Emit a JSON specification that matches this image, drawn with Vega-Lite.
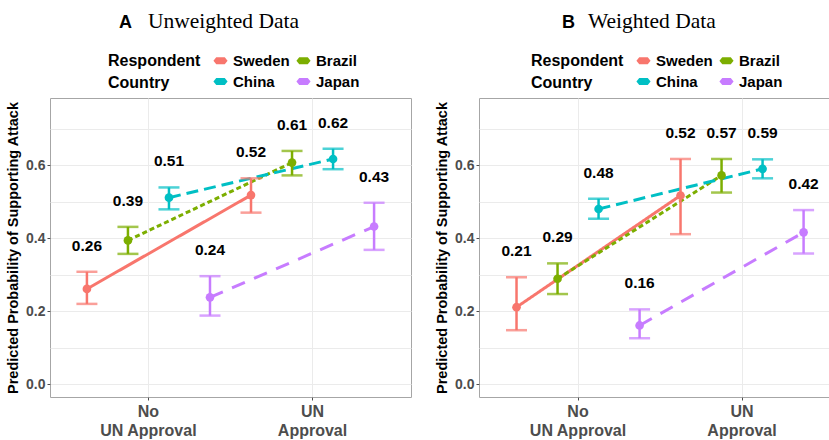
{
  "$schema": "https://vega.github.io/schema/vega-lite/v6.json",
  "background": "white",
  "padding": {"left": 5, "top": 10, "right": 0, "bottom": 0},
  "datasets": {
    "unweighted": [
      {"approval": "No UN Approval", "country": "Sweden", "p": 0.261, "lo": 0.220, "hi": 0.308},
      {"approval": "No UN Approval", "country": "Brazil", "p": 0.394, "lo": 0.357, "hi": 0.431},
      {"approval": "No UN Approval", "country": "China", "p": 0.511, "lo": 0.479, "hi": 0.539},
      {"approval": "No UN Approval", "country": "Japan", "p": 0.238, "lo": 0.188, "hi": 0.296},
      {"approval": "UN Approval", "country": "Sweden", "p": 0.518, "lo": 0.470, "hi": 0.564},
      {"approval": "UN Approval", "country": "Brazil", "p": 0.607, "lo": 0.572, "hi": 0.639},
      {"approval": "UN Approval", "country": "China", "p": 0.617, "lo": 0.589, "hi": 0.645},
      {"approval": "UN Approval", "country": "Japan", "p": 0.432, "lo": 0.368, "hi": 0.497}
    ],
    "weighted": [
      {"approval": "No UN Approval", "country": "Sweden", "p": 0.211, "lo": 0.148, "hi": 0.293},
      {"approval": "No UN Approval", "country": "Brazil", "p": 0.289, "lo": 0.247, "hi": 0.331},
      {"approval": "No UN Approval", "country": "China", "p": 0.480, "lo": 0.453, "hi": 0.508},
      {"approval": "No UN Approval", "country": "Japan", "p": 0.161, "lo": 0.126, "hi": 0.205},
      {"approval": "UN Approval", "country": "Sweden", "p": 0.517, "lo": 0.411, "hi": 0.617},
      {"approval": "UN Approval", "country": "Brazil", "p": 0.572, "lo": 0.525, "hi": 0.617},
      {"approval": "UN Approval", "country": "China", "p": 0.590, "lo": 0.564, "hi": 0.616},
      {"approval": "UN Approval", "country": "Japan", "p": 0.416, "lo": 0.358, "hi": 0.477}
    ]
  },
  "config": {
    "font": "Liberation Sans",
    "view": {"stroke": "#A6A6A6", "strokeWidth": 1},
    "axis": {
      "labelFont": "Liberation Sans",
      "labelFontWeight": "bold",
      "labelColor": "#4D4D4D",
      "labelFontSize": 14,
      "titleFont": "Liberation Sans",
      "titleFontWeight": "bold",
      "titleFontSize": 14.5,
      "titleColor": "black",
      "gridColor": "#EBEBEB",
      "gridWidth": 1,
      "tickColor": "#4D4D4D",
      "tickSize": 3,
      "domain": false
    },
    "legend": {
      "titleFont": "Liberation Sans",
      "labelFont": "Liberation Sans",
      "titleFontSize": 16,
      "labelFontSize": 15,
      "titleFontWeight": "bold",
      "labelFontWeight": "bold",
      "titleColor": "black",
      "labelColor": "black"
    },
    "concat": {"spacing": 22}
  },
  "resolve": {"scale": {"color": "independent", "strokeDash": "independent"}, "legend": {"color": "independent"}},
  "hconcat": [
    {
      "title": {"text": "A", "font": "Liberation Sans", "fontWeight": "bold", "fontSize": 18, "anchor": "start", "dx": 114, "dy": 26, "color": "black"},
      "vconcat": [
        {
          "width": 361,
          "height": 299,
          "title": {"text": "Unweighted Data", "font": "Liberation Serif", "fontWeight": "normal", "fontSize": 21.5, "anchor": "start", "frame": "group", "dx": 98, "offset": 66, "color": "black"},
          "data": {"name": "unweighted"},
          "encoding": {
            "x": {"field": "approval", "type": "nominal", "sort": ["No UN Approval", "UN Approval"],
              "scale": {"paddingInner": 0, "paddingOuter": 0.1},
              "axis": {"title": null, "labelAngle": 0, "labelFontSize": 16, "labelLineHeight": 19, "labelPadding": 3, "bandPosition": 0.5, "grid": true,
                "labelExpr": "datum.value == 'No UN Approval' ? ['No', 'UN Approval'] : ['UN', 'Approval']"}},
            "xOffset": {"field": "country", "type": "nominal", "sort": ["Sweden", "Brazil", "China", "Japan"], "scale": {"paddingInner": 0, "paddingOuter": 0}},
            "color": {"field": "country", "type": "nominal", "sort": ["Sweden", "Brazil", "China", "Japan"],
              "scale": {"domain": ["Sweden", "Brazil", "China", "Japan"], "range": ["#F8766D", "#7CAE00", "#00BFC4", "#C77CFF"]},
              "legend": {"orient": "none", "legendX": 58, "legendY": -45, "columns": 2, "direction": "horizontal", "titleOrient": "left", "title": ["Respondent", "Country"],
                "symbolType": "M-1,0L-0.6,-0.5L0.6,-0.5L1,0L0.6,0.5L-0.6,0.5Z", "symbolSize": 200, "symbolStrokeWidth": 0, "symbolOpacity": 1,
                "columnPadding": 6, "rowPadding": 5, "labelOffset": 5, "titlePadding": 12, "titleLineHeight": 22, "titleBaseline": "top", "titleAnchor": "start"}}
          },
          "layer": [
            {"mark": {"type": "line", "strokeWidth": 3},
              "encoding": {"y": {"field": "p", "type": "quantitative", "title": "Predicted Probability of Supporting Attack",
                "scale": {"domain": [-0.035, 0.784], "nice": false, "zero": false},
                "axis": {"values": [0, 0.1, 0.2, 0.3, 0.4, 0.5, 0.6, 0.7], "labelExpr": "datum.value * 10 % 2 == 0 ? format(datum.value, '.1f') : ''",
                  "tickOpacity": {"condition": {"test": "datum.value * 10 % 2 != 0", "value": 0}, "value": 1}, "titlePadding": 5, "labelPadding": 2}},
                "strokeDash": {"field": "country", "type": "nominal", "scale": {"domain": ["Sweden", "Brazil", "China", "Japan"], "range": [[1, 0], [5, 3], [12, 6], [14, 10]]}, "legend": null}}},
            {"mark": {"type": "rule", "strokeWidth": 2.5},
              "encoding": {"y": {"field": "lo", "type": "quantitative"}, "y2": {"field": "hi"}}},
            {"mark": {"type": "tick", "thickness": 2.5, "size": 21},
              "encoding": {"y": {"field": "lo", "type": "quantitative"}}},
            {"mark": {"type": "tick", "thickness": 2.5, "size": 21},
              "encoding": {"y": {"field": "hi", "type": "quantitative"}}},
            {"mark": {"type": "point", "filled": true, "size": 75, "opacity": 1},
              "encoding": {"y": {"field": "p", "type": "quantitative"}}},
            {"mark": {"type": "text", "fontSize": 15.5, "fontWeight": "bold", "dy": -26, "color": "black"},
              "encoding": {"y": {"field": "hi", "type": "quantitative"}, "text": {"field": "p", "type": "quantitative", "format": ".2f"}, "color": {"value": "black"}}}
          ]
        }
      ]
    },
    {
      "title": {"text": "B", "font": "Liberation Sans", "fontWeight": "bold", "fontSize": 18, "anchor": "start", "dx": 128, "dy": 26, "color": "black"},
      "vconcat": [
        {
          "width": 355,
          "height": 299,
          "title": {"text": "Weighted Data", "font": "Liberation Serif", "fontWeight": "normal", "fontSize": 21.5, "anchor": "start", "frame": "group", "dx": 109, "offset": 66, "color": "black"},
          "data": {"name": "weighted"},
          "encoding": {
            "x": {"field": "approval", "type": "nominal", "sort": ["No UN Approval", "UN Approval"],
              "scale": {"paddingInner": 0, "paddingOuter": 0.0823, "align": 0.63},
              "axis": {"title": null, "labelAngle": 0, "labelFontSize": 16, "labelLineHeight": 19, "labelPadding": 3, "bandPosition": 0.5, "grid": true,
                "labelExpr": "datum.value == 'No UN Approval' ? ['No', 'UN Approval'] : ['UN', 'Approval']"}},
            "xOffset": {"field": "country", "type": "nominal", "sort": ["Sweden", "Brazil", "China", "Japan"], "scale": {"paddingInner": 0, "paddingOuter": 0}},
            "color": {"field": "country", "type": "nominal", "sort": ["Sweden", "Brazil", "China", "Japan"],
              "scale": {"domain": ["Sweden", "Brazil", "China", "Japan"], "range": ["#F8766D", "#7CAE00", "#00BFC4", "#C77CFF"]},
              "legend": {"orient": "none", "legendX": 52, "legendY": -45, "columns": 2, "direction": "horizontal", "titleOrient": "left", "title": ["Respondent", "Country"],
                "symbolType": "M-1,0L-0.6,-0.5L0.6,-0.5L1,0L0.6,0.5L-0.6,0.5Z", "symbolSize": 200, "symbolStrokeWidth": 0, "symbolOpacity": 1,
                "columnPadding": 6, "rowPadding": 5, "labelOffset": 5, "titlePadding": 12, "titleLineHeight": 22, "titleBaseline": "top", "titleAnchor": "start"}}
          },
          "layer": [
            {"mark": {"type": "line", "strokeWidth": 3},
              "encoding": {"y": {"field": "p", "type": "quantitative", "title": "Predicted Probability of Supporting Attack",
                "scale": {"domain": [-0.035, 0.784], "nice": false, "zero": false},
                "axis": {"values": [0, 0.1, 0.2, 0.3, 0.4, 0.5, 0.6, 0.7], "labelExpr": "datum.value * 10 % 2 == 0 ? format(datum.value, '.1f') : ''",
                  "tickOpacity": {"condition": {"test": "datum.value * 10 % 2 != 0", "value": 0}, "value": 1}, "titlePadding": 5, "labelPadding": 2}},
                "strokeDash": {"field": "country", "type": "nominal", "scale": {"domain": ["Sweden", "Brazil", "China", "Japan"], "range": [[1, 0], [5, 3], [12, 6], [14, 10]]}, "legend": null}}},
            {"mark": {"type": "rule", "strokeWidth": 2.5},
              "encoding": {"y": {"field": "lo", "type": "quantitative"}, "y2": {"field": "hi"}}},
            {"mark": {"type": "tick", "thickness": 2.5, "size": 21},
              "encoding": {"y": {"field": "lo", "type": "quantitative"}}},
            {"mark": {"type": "tick", "thickness": 2.5, "size": 21},
              "encoding": {"y": {"field": "hi", "type": "quantitative"}}},
            {"mark": {"type": "point", "filled": true, "size": 75, "opacity": 1},
              "encoding": {"y": {"field": "p", "type": "quantitative"}}},
            {"mark": {"type": "text", "fontSize": 15.5, "fontWeight": "bold", "dy": -26, "color": "black"},
              "encoding": {"y": {"field": "hi", "type": "quantitative"}, "text": {"field": "p", "type": "quantitative", "format": ".2f"}, "color": {"value": "black"}}}
          ]
        }
      ]
    }
  ]
}
